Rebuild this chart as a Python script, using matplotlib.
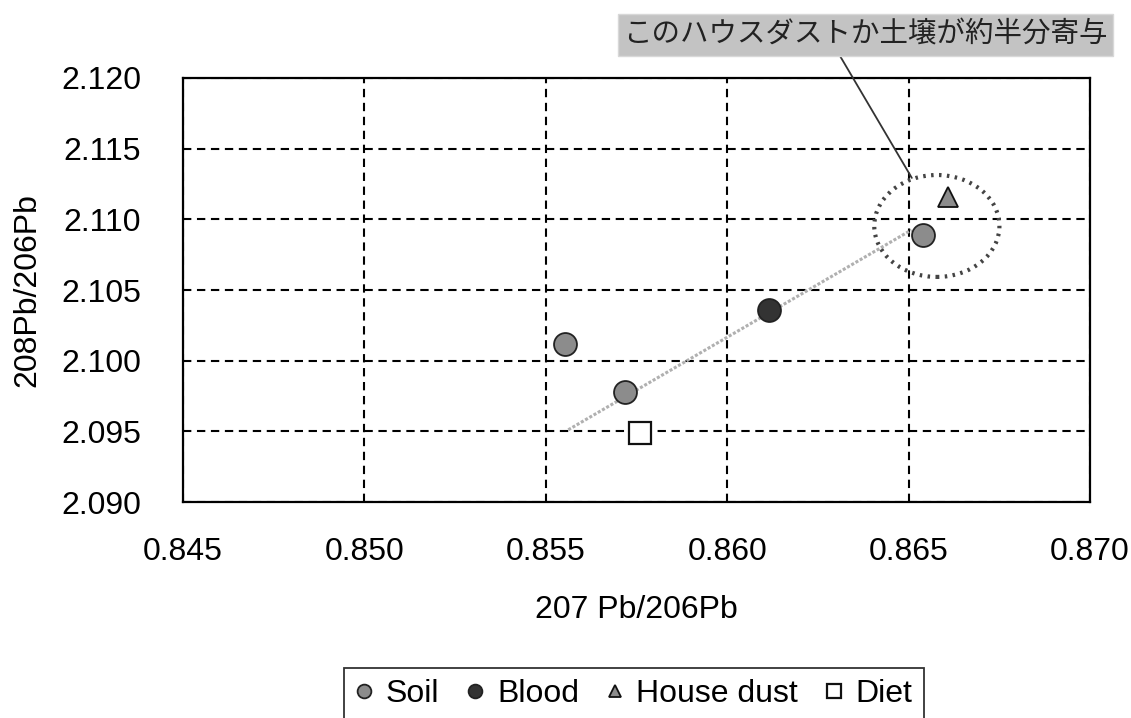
import matplotlib
matplotlib.use("Agg")
import matplotlib.pyplot as plt
from matplotlib.patches import Ellipse

# isotope ratios: x = 207Pb/206Pb, y = 208Pb/206Pb
soil_x = [0.85553, 0.85718, 0.86539]
soil_y = [2.10119, 2.09781, 2.10890]
blood_x = [0.86116]
blood_y = [2.10359]
dust_x = [0.86609]
dust_y = [2.11161]
diet_x = [0.85760]
diet_y = [2.09487]

# mixing line
trend_x = [0.85562, 0.86508]
trend_y = [2.09511, 2.10925]

x_ticks = [0.845, 0.850, 0.855, 0.860, 0.865, 0.870]
y_ticks = [2.090, 2.095, 2.100, 2.105, 2.110, 2.115, 2.120]

note = "このハウスダストか土壌が約半分寄与"

plt.rcParams['font.family'] = ['Liberation Sans', 'DejaVu Sans']

fig = plt.figure(figsize=(11.31, 7.18), dpi=100)
ax = fig.add_axes([0.1618, 0.3008, 0.8019, 0.5906])

ax.plot(trend_x, trend_y, color='#b0b0b0', lw=2.2, ls=(0, (1, 0.6)), zorder=2)

ax.plot(soil_x, soil_y, 'o', ms=16.5, mfc='#8c8c8c', mec='#222222', mew=1.3,
        label='Soil', zorder=4)
ax.plot(blood_x, blood_y, 'o', ms=16.5, mfc='#333333', mec='#222222', mew=1.3,
        label='Blood', zorder=4)
ax.plot(dust_x, dust_y, '^', ms=15, mfc='#8c8c8c', mec='#111111', mew=1.3,
        label='House dust', zorder=4)
ax.plot(diet_x, diet_y, 's', ms=16.5, mfc='white', mec='#111111', mew=1.6,
        label='Diet', zorder=4)

ring = Ellipse((0.86578, 2.10953), 0.00345, 0.00721, fill=False,
               ec='#444444', lw=3, ls=(0, (0.6, 1.3)), zorder=3)
ax.add_patch(ring)

ax.set_xlim(0.845, 0.870)
ax.set_ylim(2.090, 2.120)
ax.set_xticks(x_ticks)
ax.set_yticks(y_ticks)
ax.set_xticklabels([f"{v:.3f}" for v in x_ticks])
ax.set_yticklabels([f"{v:.3f}" for v in y_ticks])
ax.tick_params(axis='x', length=0, labelsize=23, pad=25)
ax.tick_params(axis='y', length=0, labelsize=23, pad=30)
ax.grid(True, color='black', ls=(0, (4, 2.7)), lw=1.5)
for s in ax.spines.values():
    s.set_linewidth(1.6)
    s.set_color('black')

ax.set_xlabel("207 Pb/206Pb", fontsize=23, labelpad=20)
ax.set_ylabel("208Pb/206Pb", fontsize=23, labelpad=14)

ax.annotate(note, xy=(0.86509, 2.11293), xycoords='data',
            xytext=(0.7653, 0.9513), textcoords='figure fraction',
            ha='center', va='center', fontsize=20.5, color='#222222',
            family=['Noto Sans CJK JP', 'DejaVu Sans'],
            bbox=dict(boxstyle='square,pad=0.2', fc='#c3c3c3', ec='#d8d8d8'),
            arrowprops=dict(arrowstyle='-', color='#333333', lw=1.3,
                            relpos=(0.44, 0), shrinkA=0, shrinkB=0))

leg = fig.legend(loc='upper center', bbox_to_anchor=(0.5606, 0.0696), ncol=4,
                 fontsize=23, frameon=True, fancybox=False, edgecolor='black',
                 handlelength=0.55, handletextpad=0.4, columnspacing=0.85,
                 markerscale=0.6, borderpad=0.35, borderaxespad=0)
leg.get_frame().set_linewidth(1.3)

fig.savefig("out.png", dpi=100)
